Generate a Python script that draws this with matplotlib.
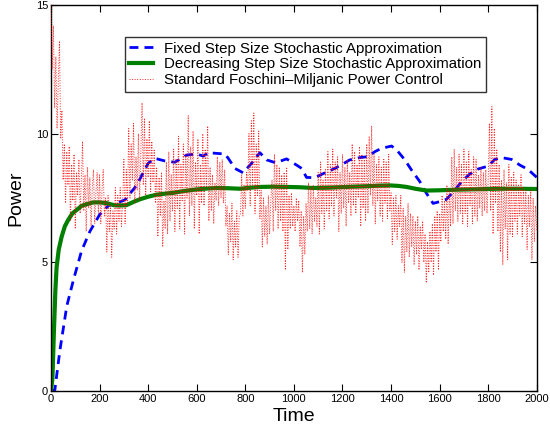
import matplotlib
matplotlib.use("Agg")
import matplotlib.pyplot as plt
import numpy as np

plt.rcParams['font.family'] = ['Liberation Sans', 'DejaVu Sans']

# Fixed step size stochastic approximation (blue dashed)
fixed_t = [0, 16, 37, 65, 92, 126, 160, 200, 236, 270, 305, 353, 400, 428, 469, 510,
           558, 600, 627, 648, 675, 716, 730, 757, 791, 826, 860, 888, 925, 970, 1011,
           1032, 1052, 1086, 1128, 1169, 1210, 1230, 1272, 1306, 1333, 1361, 1402, 1423,
           1457, 1484, 1519, 1546, 1573, 1601, 1628, 1663, 1690, 1724, 1759, 1800, 1827,
           1855, 1896, 1930, 1964, 2000]
fixed_v = [0.0, 0.05, 1.6, 3.3, 4.3, 5.45, 6.2, 6.85, 7.2, 7.3, 7.43, 8.0, 8.85, 9.04,
           8.94, 8.89, 9.17, 9.21, 9.13, 9.26, 9.24, 9.21, 9.04, 8.65, 8.48, 8.85, 9.26,
           8.98, 8.87, 9.02, 8.78, 8.65, 8.3, 8.29, 8.48, 8.65, 8.87, 8.98, 9.07, 9.11,
           9.3, 9.43, 9.52, 9.37, 8.98, 8.59, 8.13, 7.68, 7.29, 7.36, 7.45, 7.81, 8.13,
           8.43, 8.63, 8.74, 9.0, 9.07, 9.0, 8.78, 8.61, 8.3]

# Decreasing step size stochastic approximation (green solid)
decr_t = [0, 6, 12, 18, 23, 32, 44, 57, 71, 88, 106, 127, 147, 174, 200, 229, 260, 284,
          310, 340, 366, 400, 435, 470, 503, 540, 586, 630, 682, 730, 778, 820, 860, 910,
          970, 1020, 1078, 1140, 1217, 1300, 1350, 1395, 1430, 1464, 1500, 1546, 1600,
          1656, 1750, 1834, 1920, 2000]
decr_v = [0.0, 0.5, 2.3, 3.9, 4.8, 5.5, 6.0, 6.4, 6.65, 6.9, 7.04, 7.2, 7.26, 7.33, 7.33,
          7.3, 7.22, 7.21, 7.22, 7.35, 7.45, 7.55, 7.63, 7.67, 7.7, 7.76, 7.82, 7.86,
          7.89, 7.88, 7.86, 7.9, 7.93, 7.94, 7.93, 7.92, 7.89, 7.9, 7.93, 7.96, 7.98,
          7.99, 7.97, 7.93, 7.86, 7.79, 7.8, 7.82, 7.84, 7.86, 7.86, 7.85]

# Standard Foschini-Miljanic power control (red dotted), sampled every 5 time units
fm_step = 5
fm_v = [
    15.0, 12.5, 14.2, 11.0, 13.0, 10.2, 12.0, 13.6, 9.8, 10.9, 8.2, 9.6, 7.3, 9.3, 8.0, 9.5, 6.6, 8.8, 7.4, 9.2,
    6.3, 8.5, 7.6, 9.0, 6.9, 8.2, 9.7, 7.0, 8.4, 6.2, 8.7, 7.1, 8.3, 6.4, 7.9, 8.6, 6.5, 7.7, 8.5, 6.9,
    8.4, 6.5, 7.8, 8.6, 6.8, 7.5, 5.4, 7.6, 6.2, 7.2, 5.2, 7.0, 6.3, 7.9, 6.1, 7.6, 6.6, 7.9, 6.4, 7.3,
    9.0, 6.5, 8.6, 7.2, 10.2, 7.5, 9.6, 8.2, 10.4, 7.3, 9.1, 7.8, 10.0, 7.4, 9.4, 11.2, 8.0, 10.6, 7.6, 9.8,
    8.3, 10.5, 7.7, 9.7, 8.1, 9.4, 7.3, 8.7, 6.0, 8.3, 6.8, 8.5, 5.6, 7.4, 6.3, 8.9, 6.1, 9.3, 6.6, 8.4,
    7.0, 9.4, 6.2, 9.0, 7.1, 9.9, 6.3, 8.8, 7.4, 9.6, 6.1, 9.2, 7.5, 10.7, 6.8, 9.5, 7.2, 10.1, 6.3, 8.9,
    7.6, 9.8, 6.1, 8.8, 7.3, 10.0, 7.2, 9.4, 7.9, 10.3, 6.6, 8.7, 7.0, 8.4, 6.5, 8.1, 7.4, 9.1, 7.2, 8.9,
    7.5, 9.0, 7.3, 8.6, 6.4, 7.2, 5.3, 6.9, 5.8, 7.3, 5.1, 6.6, 5.6, 7.0, 5.2, 6.8, 6.9, 8.4, 6.8, 8.0,
    7.1, 8.5, 7.8, 10.0, 7.2, 10.5, 8.0, 10.8, 6.9, 9.6, 7.6, 10.1, 6.7, 7.8, 5.6, 7.5, 6.0, 7.2, 5.7, 7.6,
    6.1, 7.4, 8.2, 6.2, 9.2, 7.0, 8.8, 6.3, 8.7, 6.6, 8.4, 6.2, 8.5, 4.7, 8.7, 5.5, 7.6, 6.3, 7.7, 6.4,
    7.2, 6.2, 7.5, 6.6, 7.4, 5.6, 7.0, 4.6, 6.8, 5.3, 7.3, 6.2, 8.1, 6.3, 7.9, 6.1, 8.0, 6.6, 7.5, 6.4,
    8.5, 6.1, 8.9, 6.9, 8.2, 6.3, 8.6, 7.0, 9.3, 6.7, 8.8, 7.2, 9.4, 6.8, 8.9, 7.5, 9.1, 6.2, 8.5, 6.9,
    9.2, 7.1, 8.7, 6.4, 9.0, 7.3, 8.5, 6.8, 9.6, 7.2, 9.3, 6.9, 8.8, 7.5, 9.5, 6.4, 9.2, 7.1, 9.0, 6.6,
    9.6, 6.9, 9.9, 7.6, 10.3, 7.2, 9.2, 6.5, 8.8, 7.4, 9.1, 6.8, 8.7, 6.6, 9.0, 7.3, 8.9, 6.7, 9.2, 7.0,
    7.7, 5.7, 7.5, 6.2, 7.6, 5.9, 7.2, 6.4, 7.6, 5.0, 7.1, 4.6, 6.8, 5.4, 7.3, 5.2, 6.9, 5.6, 6.8, 4.9,
    6.6, 5.3, 6.8, 4.7, 6.4, 5.5, 6.6, 5.0, 6.1, 4.2, 5.8, 4.6, 6.2, 5.0, 6.5, 4.5, 6.8, 5.4, 7.0, 4.7,
    6.9, 5.8, 7.6, 6.2, 7.4, 5.9, 8.0, 5.7, 7.8, 6.4, 9.1, 6.5, 9.4, 7.0, 8.7, 6.6, 9.2, 6.9, 8.8, 6.5,
    9.4, 6.9, 8.9, 6.4, 9.3, 7.2, 8.6, 6.5, 9.1, 6.8, 9.0, 6.6, 8.4, 7.1, 8.7, 6.8, 8.5, 7.0, 8.6, 6.9,
    8.2, 10.4, 7.0, 11.05, 6.1, 10.2, 7.3, 9.4, 6.2, 8.8, 5.4, 8.2, 4.9, 8.6, 6.3, 8.1, 5.1, 8.8, 6.1, 8.3,
    6.0, 8.5, 6.6, 8.2, 6.1, 8.0, 6.8, 8.4, 6.0, 7.9, 6.5, 7.8, 5.5, 7.6, 6.4, 7.8, 5.1, 7.5, 5.8, 7.2,
    6.2,
]
fm_t = np.arange(len(fm_v)) * fm_step

x_ticks = [0, 200, 400, 600, 800, 1000, 1200, 1400, 1600, 1800, 2000]
y_ticks = [0, 5, 10, 15]

labels = ['Fixed Step Size Stochastic Approximation',
          'Decreasing Step Size Stochastic Approximation',
          'Standard Foschini\u2013Miljanic Power Control']

fig = plt.figure(figsize=(5.5, 4.32), dpi=100)
ax = fig.add_axes([0.0927, 0.0949, 0.8833, 0.8935])

ax.plot(fixed_t, fixed_v, color='blue', linestyle=(0, (3.2, 2.2)), linewidth=2.0,
        label=labels[0], zorder=2)
ax.plot(decr_t, decr_v, color='green', linestyle='-', linewidth=3.0,
        label=labels[1], zorder=2)
ax.plot(fm_t, fm_v, color='red', linestyle=':', linewidth=0.7, alpha=0.85,
        label=labels[2], zorder=3)

ax.set_xlim(0, 2000)
ax.set_ylim(0, 15)
ax.set_xticks(x_ticks)
ax.set_yticks(y_ticks)
ax.tick_params(direction='in', top=True, right=True, length=5, width=0.8,
               labelsize=8, pad=2)
for s in ax.spines.values():
    s.set_linewidth(1.0)

ax.set_xlabel('Time', fontsize=14, labelpad=3)
ax.set_ylabel('Power', fontsize=14, labelpad=8)

leg = ax.legend(loc='upper left', bbox_to_anchor=(0.152, 0.917), borderaxespad=0,
                fontsize=10.8, frameon=True, fancybox=False, handlelength=1.6,
                handletextpad=0.7, labelspacing=0.12, borderpad=0.3)
leg.get_frame().set_edgecolor('black')
leg.get_frame().set_linewidth(1.0)

fig.savefig('out.png', dpi=100)
